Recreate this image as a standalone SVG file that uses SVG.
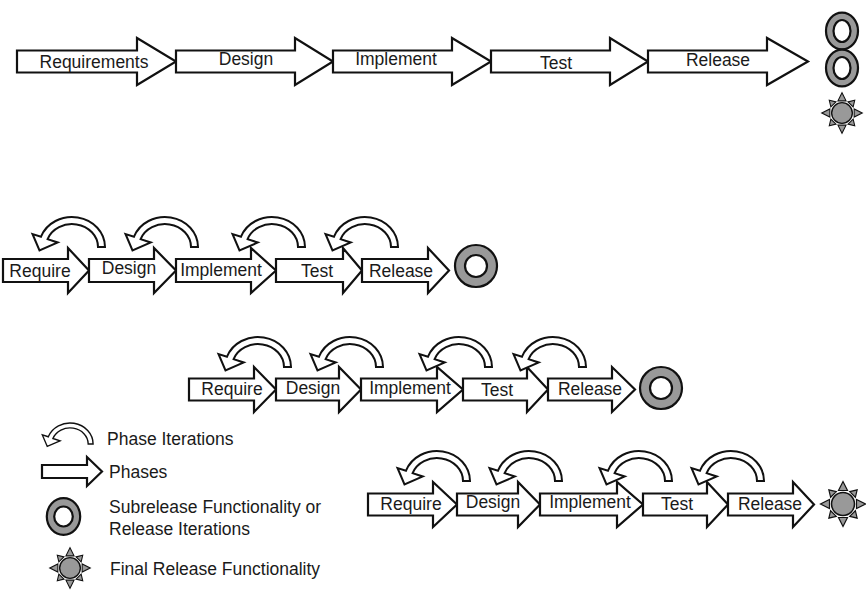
<svg xmlns="http://www.w3.org/2000/svg" xmlns:xlink="http://www.w3.org/1999/xlink" width="866" height="590" viewBox="0 0 866 590">
<style>
.ph{fill:#fff;stroke:#111;stroke-width:2.2;stroke-linejoin:miter}
.it{fill:#fff;stroke:#111;stroke-width:2;stroke-linejoin:miter}
.ringo{fill:#999;stroke:#111;stroke-width:2.2}
.ringi{fill:#fff;stroke:#111;stroke-width:2.2}
.sp{fill:#999;stroke:#111;stroke-width:1.2;stroke-linejoin:miter}
text{font-family:"Liberation Sans",Arial,sans-serif;font-size:17.5px;fill:#1a1a1a}
.lab{text-anchor:middle}
</style>
<defs>
<path id="iter" class="it" d="M 33,0 A 33 30 0 0 0 -31,-10.3 L -39.5,-13 L -32.5,3.5 L -14.2,-4.5 L -24.4,-7.9 A 26 23 0 0 1 26,0 Z"/>
<g id="star">
<circle r="11.5" fill="#999" stroke="#111" stroke-width="1.5"/>
<polygon class="sp" points="-4.5,-13.5 4.5,-13.5 0,-22.5"/>
<polygon class="sp" points="-4.5,-13.5 4.5,-13.5 0,-22.5" transform="rotate(90)"/>
<polygon class="sp" points="-4.5,-13.5 4.5,-13.5 0,-22.5" transform="rotate(180)"/>
<polygon class="sp" points="-4.5,-13.5 4.5,-13.5 0,-22.5" transform="rotate(270)"/>
<polygon class="sp" points="-4,-13.5 4,-13.5 0,-20" transform="rotate(45)"/>
<polygon class="sp" points="-4,-13.5 4,-13.5 0,-20" transform="rotate(135)"/>
<polygon class="sp" points="-4,-13.5 4,-13.5 0,-20" transform="rotate(225)"/>
<polygon class="sp" points="-4,-13.5 4,-13.5 0,-20" transform="rotate(315)"/>
</g>
</defs>

<!-- Row 1: waterfall -->
<g id="row1">
<g id="r1-req"><path class="ph" d="M17,50.5 H137 V38 L176,61.5 L137,85 V72.5 H17 Z"/><text class="lab" x="94" y="68">Requirements</text></g>
<g id="r1-des"><path class="ph" d="M176,50.5 H295 V38 L333,61.5 L295,85 V72.5 H176 Z"/><text class="lab" x="246" y="65">Design</text></g>
<g id="r1-imp"><path class="ph" d="M333,50.5 H452 V38 L491,61.5 L452,85 V72.5 H333 Z"/><text class="lab" x="396" y="65">Implement</text></g>
<g id="r1-tst"><path class="ph" d="M491,50.5 H610 V38 L648,61.5 L610,85 V72.5 H491 Z"/><text class="lab" x="556" y="69">Test</text></g>
<g id="r1-rel"><path class="ph" d="M648,50.5 H767 V38 L808,61.5 L767,85 V72.5 H648 Z"/><text class="lab" x="718" y="66">Release</text></g>
<g id="r1-ring1"><ellipse class="ringo" cx="842" cy="31" rx="16" ry="18.3"/><ellipse class="ringi" cx="842" cy="31" rx="8.5" ry="11"/></g>
<g id="r1-ring2"><ellipse class="ringo" cx="842" cy="68" rx="16" ry="18.3"/><ellipse class="ringi" cx="842" cy="68" rx="8.5" ry="11"/></g>
<g id="r1-star"><use xlink:href="#star" transform="translate(842,113) scale(0.9)"/></g>
</g>

<!-- Row 2 -->
<g id="row2">
<g id="r2-req"><path class="ph" d="M3,259 H68 V248 L89,270.5 L68,293 V282 H3 Z"/><text class="lab" x="40" y="277">Require</text></g>
<g id="r2-des"><path class="ph" d="M89,259 H154 V248 L176,270.5 L154,293 V282 H89 Z"/><text class="lab" x="129" y="274">Design</text></g>
<g id="r2-imp"><path class="ph" d="M176,259 H251 V248 L276,270.5 L251,293 V282 H176 Z"/><text class="lab" x="221" y="276">Implement</text></g>
<g id="r2-tst"><path class="ph" d="M276,259 H343 V248 L362,270.5 L343,293 V282 H276 Z"/><text class="lab" x="317" y="277">Test</text></g>
<g id="r2-rel"><path class="ph" d="M362,259 H428 V248 L449,270.5 L428,293 V282 H362 Z"/><text class="lab" x="401" y="277">Release</text></g>
<g id="r2-ring"><circle class="ringo" cx="476" cy="266" r="21"/><circle class="ringi" cx="476" cy="266" r="11"/></g>
</g>

<!-- Row 3 -->
<g id="row3">
<g id="r3-req"><path class="ph" d="M189,378.5 H254 V367 L276,389.5 L254,412 V400.5 H189 Z"/><text class="lab" x="232" y="395">Require</text></g>
<g id="r3-des"><path class="ph" d="M276,378.5 H339 V367 L361,389.5 L339,412 V400.5 H276 Z"/><text class="lab" x="313" y="394">Design</text></g>
<g id="r3-imp"><path class="ph" d="M361,378.5 H437 V367 L463,389.5 L437,412 V400.5 H361 Z"/><text class="lab" x="410" y="394">Implement</text></g>
<g id="r3-tst"><path class="ph" d="M463,378.5 H527 V367 L548,389.5 L527,412 V400.5 H463 Z"/><text class="lab" x="497" y="396">Test</text></g>
<g id="r3-rel"><path class="ph" d="M548,378.5 H612 V367 L635,389.5 L612,412 V400.5 H548 Z"/><text class="lab" x="590" y="395">Release</text></g>
<g id="r3-ring"><circle class="ringo" cx="661" cy="388" r="21"/><circle class="ringi" cx="661" cy="388" r="11"/></g>
</g>

<!-- Row 4 -->
<g id="row4">
<g id="r4-req"><path class="ph" d="M368,493.5 H433 V482 L457,504.5 L433,527 V515.5 H368 Z"/><text class="lab" x="411" y="510">Require</text></g>
<g id="r4-des"><path class="ph" d="M457,493.5 H518 V482 L540,504.5 L518,527 V515.5 H457 Z"/><text class="lab" x="493" y="508">Design</text></g>
<g id="r4-imp"><path class="ph" d="M540,493.5 H617 V482 L643,504.5 L617,527 V515.5 H540 Z"/><text class="lab" x="590" y="508">Implement</text></g>
<g id="r4-tst"><path class="ph" d="M643,493.5 H707 V482 L728,504.5 L707,527 V515.5 H643 Z"/><text class="lab" x="677" y="510">Test</text></g>
<g id="r4-rel"><path class="ph" d="M728,493.5 H793 V482 L814,504.5 L793,527 V515.5 H728 Z"/><text class="lab" x="770" y="510">Release</text></g>
<g id="r4-star"><use xlink:href="#star" transform="translate(843,504)"/></g>
</g>

<!-- Phase iteration connectors -->
<g id="iterations">
<use xlink:href="#iter" x="72" y="247"/>
<use xlink:href="#iter" x="165" y="247"/>
<use xlink:href="#iter" x="272" y="247"/>
<use xlink:href="#iter" x="365" y="247"/>
<use xlink:href="#iter" x="258" y="367"/>
<use xlink:href="#iter" x="350" y="367"/>
<use xlink:href="#iter" x="459" y="367"/>
<use xlink:href="#iter" x="553" y="367"/>
<use xlink:href="#iter" x="437" y="481"/>
<use xlink:href="#iter" x="529" y="481"/>
<use xlink:href="#iter" x="639" y="481"/>
<use xlink:href="#iter" x="731" y="481"/>
</g>

<!-- Legend -->
<g id="legend">
<g id="lg-iter"><use xlink:href="#iter" transform="translate(70,444) scale(0.7)"/><text x="107" y="445">Phase Iterations</text></g>
<g id="lg-phase"><path class="ph" d="M42,465 H87 V457 L102,471.5 L87,486 V478 H42 Z"/><text x="109" y="478">Phases</text></g>
<g id="lg-ring"><ellipse class="ringo" cx="63.5" cy="516.5" rx="16.7" ry="18.3"/><ellipse class="ringi" cx="63.5" cy="516.5" rx="9.3" ry="10"/><text x="109" y="513">Subrelease Functionality or</text><text x="109" y="535">Release Iterations</text></g>
<g id="lg-star"><use xlink:href="#star" transform="translate(70,568) scale(0.9)"/><text x="110" y="575">Final Release Functionality</text></g>
</g>
</svg>
